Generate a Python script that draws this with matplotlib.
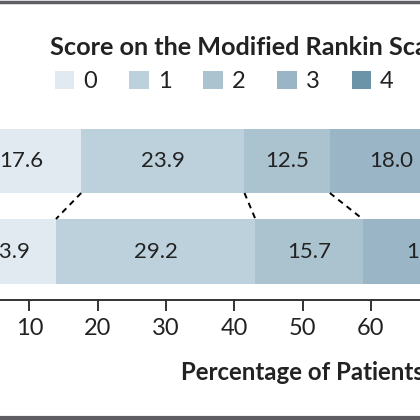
import matplotlib.pyplot as plt
import numpy as np
from matplotlib.patches import Patch
from matplotlib.lines import Line2D

plt.rcParams['font.family'] = ['Lato', 'DejaVu Sans']

# data (mRS score distribution, two groups; only part of the chart is visible)
scores = ['0', '1', '2', '3', '4']
colors = ['#e0eaf0', '#bdd1dc', '#abc2cf', '#9ab6c6', '#6b94a9']
top_vals = [17.6, 23.9, 12.5, 18.0]
bottom_vals = [13.9, 29.2, 15.7, 19.3]
xticks = [0, 10, 20, 30, 40, 50, 60, 70, 80, 90, 100]

fig = plt.figure(figsize=(4.2, 4.2), dpi=100)
ax = fig.add_axes([0, (420 - 300) / 420, 1, 180 / 420])

top_y, top_h = 161, 64
bot_y, bot_h = 251.5, 65

top_left = np.concatenate([[0], np.cumsum(top_vals)[:-1]])
bot_left = np.concatenate([[0], np.cumsum(bottom_vals)[:-1]])

ax.barh(top_y, top_vals, left=top_left, height=top_h, color=colors[:len(top_vals)])
ax.barh(bot_y, bottom_vals, left=bot_left, height=bot_h, color=colors[:len(bottom_vals)])

for l, v in zip(top_left, top_vals):
    ax.text(l + v / 2, top_y, f'{v:.1f}', ha='center', va='center', fontsize=16, color='#222222')
for l, v in zip(bot_left, bottom_vals):
    ax.text(l + v / 2, bot_y, f'{v:.1f}', ha='center', va='center', fontsize=16, color='#222222')

# dashed connectors between segment boundaries
top_edges = np.cumsum(top_vals)
bot_edges = np.cumsum(bottom_vals)
for a, b in zip(top_edges, bot_edges):
    ax.plot([a, b], [top_y + top_h / 2, bot_y - bot_h / 2], color='black',
            lw=1.4, ls=(0, (3, 2.5)))

ax.set_ylim(300, 120)
ax.set_xticks(xticks)
ax.set_xlim(5.71, 67.2)
ax.set_yticks([])
for s in ['top', 'left', 'right']:
    ax.spines[s].set_visible(False)
ax.spines['bottom'].set_linewidth(1.4)
ax.spines['bottom'].set_color('#333333')
ax.tick_params(axis='x', length=8, width=1.4, color='#333333', pad=5,
               labelsize=17, labelcolor='#222222')
ax.set_xlabel('Percentage of Patients', fontsize=17.3, fontweight='bold',
              color='#222222', ha='left', va='center')
ax.xaxis.set_label_coords(181 / 420, -(373 - 300) / 180)

fig.text(50 / 420, 1 - 55 / 420, 'Score on the Modified Rankin Scale',
         fontsize=18.2, fontweight='bold', color='#222222', va='baseline')

handles = [Patch(facecolor=c, edgecolor='none') for c in colors]
leg = fig.legend(handles, scores, ncol=5, loc='center left',
                 bbox_to_anchor=(55 / 420, 1 - 81.5 / 420),
                 frameon=False, fontsize=17,
                 handlelength=0.82, handleheight=0.82, handletextpad=0.38,
                 columnspacing=1.36, borderpad=0, borderaxespad=0)
for t in leg.get_texts():
    t.set_color('#222222')

# gray border bands at top and bottom
fig.add_artist(Line2D([0, 1], [1 - 1.5 / 420, 1 - 1.5 / 420], color='#5f5f63', lw=2.5))
fig.add_artist(Line2D([0, 1], [2 / 420, 2 / 420], color='#5f5f63', lw=3))

fig.savefig('out.png', dpi=100)
